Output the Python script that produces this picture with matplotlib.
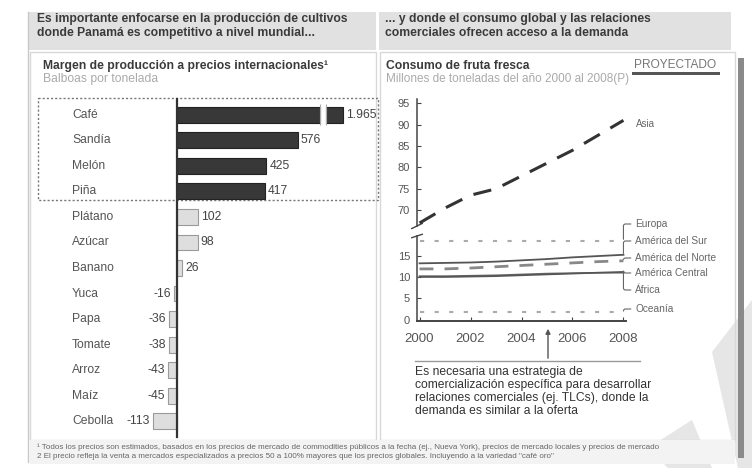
"""Margen de producción y consumo de fruta fresca (Panamá)."""

import numpy as np
import matplotlib

matplotlib.use("Agg")
import matplotlib.pyplot as plt  # noqa: E402
from matplotlib.patches import Rectangle, Polygon  # noqa: E402
from matplotlib.transforms import blended_transform_factory  # noqa: E402

plt.rcParams["font.family"] = ["Liberation Sans", "DejaVu Sans"]

# --- data -------------------------------------------------------------------
crops = ["Café", "Sandía", "Melón", "Piña", "Plátano", "Azúcar", "Banano",
         "Yuca", "Papa", "Tomate", "Arroz", "Maíz", "Cebolla"]
margins = [1965, 576, 425, 417, 102, 98, 26, -16, -36, -38, -43, -45, -113]
n_highlight = 4          # crops where Panamá is competitive
bar_cap = 790            # broken bar for Café

years = [2000, 2001, 2002, 2003, 2004, 2005, 2006, 2007, 2008]
asia = [67, 70.5, 73.5, 75, 78, 81, 84, 87.5, 91]
europa = [18.5] * 9
am_sur = [13.2, 13.3, 13.4, 13.6, 13.9, 14.2, 14.6, 14.9, 15.2]
am_norte = [11.9, 11.9, 12.1, 12.4, 12.7, 13.0, 13.3, 13.6, 13.8]
am_central = [10.2, 10.2, 10.3, 10.4, 10.6, 10.8, 10.9, 11.0, 11.0]
africa = [10.0, 10.0, 10.1, 10.2, 10.4, 10.6, 10.8, 11.0, 11.2]
oceania = [1.7] * 9
x_ticks = [2000, 2002, 2004, 2006, 2008]

W, H = 752, 468
fig = plt.figure(figsize=(W / 100, H / 100), dpi=100)

# pixel canvas for frames and texts
canvas = fig.add_axes([0, 0, 1, 1], zorder=0)
canvas.set_xlim(0, W)
canvas.set_ylim(H, 0)
canvas.axis("off")


def fax(left, top, right, bottom):
    return [left / W, 1 - bottom / H, (right - left) / W, (bottom - top) / H]


# frames
canvas.add_patch(Polygon([(712, 352), (752, 300), (752, 468), (738, 468)],
                         fc="#e6e6e6", ec="none"))
canvas.add_patch(Polygon([(648, 448), (692, 420), (712, 468), (668, 468)],
                         fc="#e6e6e6", ec="none"))
canvas.add_patch(Rectangle((28, 12), 348, 38, fc="#e1e1e1", ec="none"))
canvas.add_patch(Rectangle((379, 12), 352, 38, fc="#e1e1e1", ec="none"))
canvas.add_patch(Rectangle((30, 52), 346, 388, fill=False, ec="#d8d8d8", lw=1))
canvas.add_patch(Rectangle((380, 52), 355, 388, fill=False, ec="#d8d8d8", lw=1))
canvas.add_patch(Rectangle((30, 440), 705, 24, fc="#f3f3f3", ec="none"))
canvas.plot([28, 28], [12, 462], color="#c8c8c8", lw=1)
canvas.add_patch(Rectangle((738, 58), 6, 400, fc="#8a8a8a", ec="none"))

hdr = dict(fontsize=8.7, fontweight="bold", color="#3a3a3a", va="center")
canvas.text(37, 19, "Es importante enfocarse en la producción de cultivos", **hdr)
canvas.text(37, 33, "donde Panamá es competitivo a nivel mundial...", **hdr)
canvas.text(385, 19, "... y donde el consumo global y las relaciones", **hdr)
canvas.text(385, 33, "comerciales ofrecen acceso a la demanda", **hdr)

canvas.text(43, 66, "Margen de producción a precios internacionales¹",
            fontsize=8.7, fontweight="bold", color="#3a3a3a", va="center")
canvas.text(43, 79, "Balboas por tonelada", fontsize=8.7, color="#aaaaaa",
            va="center")
canvas.text(386, 66, "Consumo de fruta fresca", fontsize=8.7,
            fontweight="bold", color="#3a3a3a", va="center")
canvas.text(386, 79, "Millones de toneladas del año 2000 al 2008(P)",
            fontsize=8.5, color="#aaaaaa", va="center")
canvas.text(634, 65, "PROYECTADO", fontsize=8.6, color="#777777", va="center")
canvas.add_patch(Rectangle((632, 72), 88, 3, fc="#555555", ec="none"))

canvas.add_patch(Rectangle((38, 98), 340, 102, fill=False, ec="#777777",
                           lw=1, ls=(0, (1.5, 1.5))))

# note under the line chart
canvas.plot([415, 640], [361, 361], color="#999999", lw=1)
canvas.annotate("", xy=(548, 326), xytext=(548, 361),
                arrowprops=dict(arrowstyle="-|>", color="#555555", lw=1,
                                mutation_scale=7))
note = ["Es necesaria una estrategia de",
        "comercialización específica para desarrollar",
        "relaciones comerciales (ej. TLCs), donde la",
        "demanda es similar a la oferta"]
for i, line in enumerate(note):
    canvas.text(415, 372 + i * 13, line, fontsize=8.7, color="#333333",
                va="center")

foot = ["¹ Todos los precios son estimados, basados en los precios de mercado de "
        "commodities públicos a la fecha (ej., Nueva York), precios de mercado "
        "locales y precios de mercado",
        "2 El precio refleja la venta a mercados especializados a precios 50 a "
        "100% mayores que los precios globales. Incluyendo a la variedad "
        "\"café oro\""]
for i, line in enumerate(foot):
    canvas.text(37, 447 + i * 10, line, fontsize=5.8, color="#666666",
                va="center")

# --- bar chart ----------------------------------------------------------------
px_per_unit = 0.21
left_px, right_px, zero_px = 40, 378, 177
ax_bar = fig.add_axes(fax(left_px, 102, right_px, 434), zorder=1)
ax_bar.set_facecolor("none")
ax_bar.set_xlim(-(zero_px - left_px) / px_per_unit,
                (right_px - zero_px) / px_per_unit)
ax_bar.set_ylim(len(crops) - 0.5, -0.5)
ax_bar.axis("off")

ypos = np.arange(len(crops))
vals = np.array(margins, dtype=float)
shown = np.minimum(vals, bar_cap)
colors = ["#383838" if i < n_highlight else "#dedede" for i in ypos]
edges = ["#222222" if i < n_highlight else "#9a9a9a" for i in ypos]
ax_bar.barh(ypos, shown, height=0.62, color=colors, edgecolor=edges, lw=0.8,
            zorder=2)
ax_bar.axvline(0, color="#333333", lw=1.6, zorder=3,
               ymin=-0.01, ymax=1.01, clip_on=False)

# break mark on the Café bar
brk = bar_cap * 0.88
for dx, c, lw in [(0, "white", 3.5), (-14, "#aaaaaa", 0.8), (14, "#aaaaaa", 0.8)]:
    ax_bar.plot([brk + dx, brk + dx], [-0.42, 0.42], color=c, lw=lw, zorder=4,
                solid_capstyle="butt")

lab_tr = blended_transform_factory(ax_bar.transAxes, ax_bar.transData)
offset = 3 / px_per_unit
for i, (name, v, s) in enumerate(zip(crops, vals, shown)):
    ax_bar.text((72 - left_px) / (right_px - left_px), i, name,
                transform=lab_tr, fontsize=8.7, color="#555555",
                ha="left", va="center")
    txt = f"{int(v):,}".replace(",", ".")
    if v >= 0:
        ax_bar.text(s + offset, i, txt, fontsize=8.7, color="#444444",
                    ha="left", va="center")
    else:
        ax_bar.text(s - offset, i, txt, fontsize=8.7, color="#444444",
                    ha="right", va="center")

# --- line chart (broken y axis) ---------------------------------------------
ax_up = fig.add_axes(fax(417, 99, 626, 226), zorder=1)
ax_lo = fig.add_axes(fax(417, 236, 626, 321), zorder=1)
for ax in (ax_up, ax_lo):
    ax.set_facecolor("none")
    ax.set_xlim(1999.9, 2008.1)
    for sp in ("top", "right"):
        ax.spines[sp].set_visible(False)
    ax.spines["left"].set_color("#444444")
    ax.spines["left"].set_linewidth(1.1)
    ax.tick_params(axis="y", direction="in", length=3, labelsize=8,
                   labelcolor="#555555", color="#444444", pad=5)

ax_up.set_ylim(66.3, 96)
ax_up.set_yticks([70, 75, 80, 85, 90, 95])
ax_up.spines["bottom"].set_visible(False)
ax_up.set_xticks([])

ax_lo.set_ylim(-0.3, 19.6)
ax_lo.set_yticks([0, 5, 10, 15])
ax_lo.spines["bottom"].set_color("#444444")
ax_lo.spines["bottom"].set_linewidth(1.4)
ax_lo.set_xticks(x_ticks)
ax_lo.tick_params(axis="x", direction="in", length=3, labelsize=9.5,
                  labelcolor="#555555", color="#444444", pad=9)

# axis break marks
for ax, y0 in ((ax_up, 0.0), (ax_lo, 1.0)):
    ax.plot([-0.025, 0.025], [y0 - 0.02, y0 + 0.02], transform=ax.transAxes,
            color="#444444", lw=1, clip_on=False)

ax_up.plot(years, asia, color="#333333", lw=2.2, dashes=(6, 4))
ax_up.annotate("Asia", xy=(years[-1], asia[-1]), xytext=(636, 124),
               textcoords=canvas.transData, fontsize=7, color="#666666",
               va="center")

series = [
    ("Europa", europa, dict(color="#aaaaaa", lw=1.5, dashes=(2, 5)), 224),
    ("América del Sur", am_sur, dict(color="#555555", lw=1.3), 241),
    ("América del Norte", am_norte, dict(color="#888888", lw=2, dashes=(5, 4)), 258),
    ("América Central", am_central, dict(color="#666666", lw=1.2), 273),
    ("África", africa, dict(color="#555555", lw=1.2), 290),
    ("Oceanía", oceania, dict(color="#aaaaaa", lw=1.5, dashes=(2, 5)), 309),
]
for name, vals_s, style, ly in series:
    ax_lo.plot(years, vals_s, **style)
    ax_lo.annotate(name, xy=(years[-1], vals_s[-1]), xytext=(635, ly),
                   textcoords=canvas.transData, fontsize=7.3, color="#666666",
                   va="center", ha="left",
                   arrowprops=dict(arrowstyle="-", color="#666666", lw=0.8,
                                   shrinkA=1, shrinkB=1,
                                   connectionstyle="angle,angleA=0,angleB=90,rad=2"))

fig.savefig("out.png", dpi=100)
